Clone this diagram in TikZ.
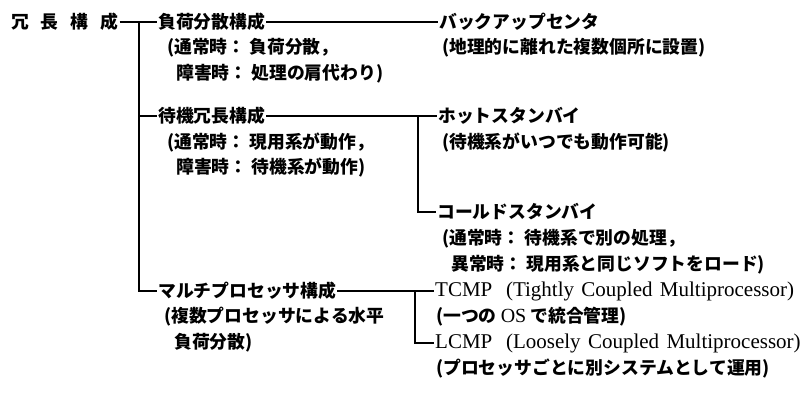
\documentclass[tikz,border=0pt]{standalone}
\usepackage{fontspec}
\newfontfamily\jp{Noto Sans CJK JP}
\newfontfamily\lat{Liberation Serif}
\tikzset{
  lbl/.style={anchor=west, inner ysep=0pt, inner xsep=1pt, font=\jp\bfseries\fontsize{17.8}{20}\selectfont},
  latlbl/.style={anchor=west, inner ysep=0pt, inner xsep=1pt, font=\lat\fontsize{21}{24}\selectfont},
  ln/.style={line width=1.3pt}
}
\begin{document}
\begin{tikzpicture}[x=1pt,y=-1pt]
\useasboundingbox (0,0) rectangle (811,406);
% left column
\node[lbl] (root) at (10,22) {冗\hspace{12pt}長\hspace{12pt}構\hspace{12pt}成};
\node[lbl] (lb) at (157,22) {負荷分散構成};
\node[lbl] (lbn) at (166,48) {(通常時： 負荷分散，};
\node[lbl] (lbf) at (175,74) {障害時： 処理の肩代わり)};
\node[lbl] (sb) at (157,116) {待機冗長構成};
\node[lbl] (sbn) at (166,143) {(通常時： 現用系が動作，};
\node[lbl] (sbf) at (175,168) {障害時： 待機系が動作)};
\node[lbl] (mp) at (157,291) {マルチプロセッサ構成};
\node[lbl] (mpn) at (163,317) {(複数プロセッサによる水平};
\node[lbl] (mpf) at (173,343) {負荷分散)};
% right column
\node[lbl] (bk) at (438,22) {バックアップセンタ};
\node[lbl] (bkn) at (441,48) {(地理的に離れた複数個所に設置)};
\node[lbl] (hot) at (437,116) {ホットスタンバイ};
\node[lbl] (hotn) at (441,143) {(待機系がいつでも動作可能)};
\node[lbl] (cold) at (436,212) {コールドスタンバイ};
\node[lbl] (coldn) at (441,239) {(通常時： 待機系で別の処理，};
\node[lbl] (coldf) at (450,265) {異常時： 現用系と同じソフトをロード)};
\node[latlbl] (tc) at (434,291) {TCMP\hspace{0.65em}(Tightly\hspace{0.35em}Coupled\hspace{0.35em}Multiprocessor)};
\node[lbl] (tcn) at (435,317) {(一つの {\lat\mdseries\fontsize{20}{22}\selectfont OS} で統合管理)};
\node[latlbl] (lc) at (434,343) {LCMP\hspace{0.65em}(Loosely\hspace{0.35em}Coupled\hspace{0.35em}Multiprocessor)};
\node[lbl] (lcn) at (435,369) {(プロセッサごとに別システムとして運用)};
% connectors
\coordinate (t1) at (139,22);
\coordinate (t2) at (418,116);
\coordinate (t3) at (415,291);
\draw[ln] (root.east) -- (lb.west);
\draw[ln] (t1) |- (sb.west);
\draw[ln] (t1) |- (mp.west);
\draw[ln] (lb.east) -- (bk.west);
\draw[ln] (sb.east) -- (hot.west);
\draw[ln] (t2) |- (cold.west);
\draw[ln] (mp.east) -- (tc.west);
\draw[ln] (t3) |- (lc.west);
\end{tikzpicture}
\end{document}
